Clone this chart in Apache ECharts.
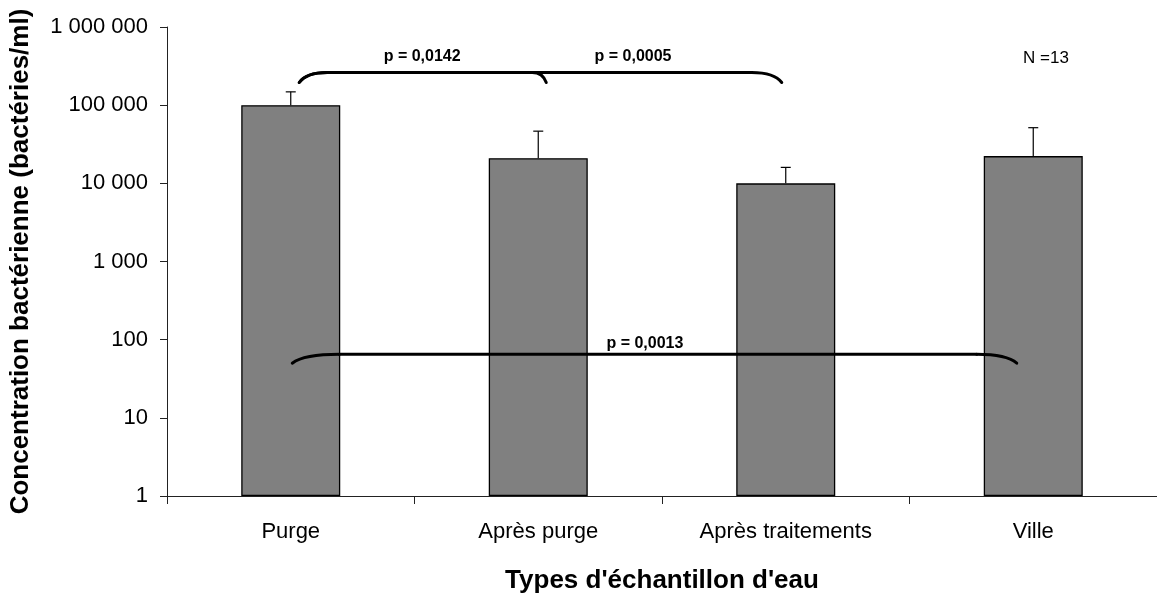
<!DOCTYPE html>
<html>
<head>
<meta charset="utf-8">
<script src="https://cdn.jsdelivr.net/npm/echarts@6/dist/echarts.min.js"></script>
<style>
html,body{margin:0;padding:0;background:#fff;}
#chart{width:1157px;height:593px;}
</style>
</head>
<body>
<div id="chart"></div>
<script>
// ---- data ----
var categories = ['Purge', 'Après purge', 'Après traitements', 'Ville'];
var meanValues = [100000, 21000, 10000, 22300];
var upperValues = [148000, 46500, 16000, 51500];
var yTickValues = [1, 10, 100, 1000, 10000, 100000, 1000000];

// significance brackets (category indexes, y levels in data units)
var bracketFrom = [0, 0, 0];
var bracketTo = [1, 2, 3];
var bracketLevel = [262000, 262000, 65];
var bracketEndLevel = [195000, 195000, 50];
var bracketTextLevel = [420000, 420000, 90];
var bracketLabels = ['p = 0,0142', 'p = 0,0005', 'p = 0,0013'];
var sampleSizeLabel = 'N =13';

// ---- drawing styles (pixel offsets, not data) ----
var bracketStyle = [
  {startOff: 8.5, endOff: 8, curveL: 28, curveR: 14, textFrac: 0.531},
  {startOff: 8.5, endOff: -4, curveL: 28, curveR: 30, textFrac: 1.383},
  {startOff: 1.5, endOff: -16.5, curveL: 47, curveR: 40, textFrac: 1.431}
];

function fmt(v) {
  return String(Math.round(v)).replace(/\B(?=(\d{3})+(?!\d))/g, ' ');
}

var chart = echarts.init(document.getElementById('chart'));
var FONT = 'Liberation Sans, Arial, sans-serif';

var option = {
  animation: false,
  grid: {left: 167, top: 27, right: 0, bottom: 97, containLabel: false, outerBoundsMode: 'none'},
  xAxis: {
    type: 'category',
    data: categories,
    boundaryGap: true,
    name: "Types d'échantillon d'eau",
    nameLocation: 'middle',
    nameGap: 72,
    nameTextStyle: {fontFamily: FONT, fontSize: 26, fontWeight: 'bold', color: '#000'},
    axisLine: {lineStyle: {color: '#222', width: 1}},
    axisTick: {show: true, length: 8, inside: false, lineStyle: {color: '#222'}},
    axisLabel: {fontFamily: FONT, fontSize: 22, color: '#000', margin: 25},
    splitLine: {show: false}
  },
  yAxis: {
    type: 'log',
    logBase: 10,
    min: 1,
    max: 1000000,
    interval: 1,
    name: 'Concentration bactérienne (bactéries/ml)',
    nameLocation: 'middle',
    nameGap: 133,
    nameRotate: 90,
    nameTextStyle: {fontFamily: FONT, fontSize: 26, fontWeight: 'bold', color: '#000'},
    axisLine: {show: true, lineStyle: {color: '#222', width: 1}},
    axisTick: {show: true, length: 7, inside: false, lineStyle: {color: '#222'}},
    axisLabel: {
      fontFamily: FONT, fontSize: 22, color: '#000', margin: 19,
      formatter: function (v) { return fmt(v); }
    },
    splitLine: {show: false},
    minorTick: {show: false}
  },
  graphic: [{
    type: 'text',
    left: 1023, top: 50,
    style: {text: sampleSizeLabel, fontFamily: FONT, fontSize: 17, fill: '#000'}
  }],
  series: [
    {
      type: 'bar',
      data: meanValues,
      barWidth: '40%',
      itemStyle: {color: '#808080', borderColor: '#000', borderWidth: 1.3},
      z: 2
    },
    {
      type: 'custom',
      z: 3,
      data: categories.map(function (c, i) { return [i, meanValues[i], upperValues[i]]; }),
      renderItem: function (params, api) {
        var i = api.value(0);
        var base = api.coord([i, api.value(1)]);
        var top = api.coord([i, api.value(2)]);
        var hw = 5;
        return {
          type: 'group',
          children: [
            {type: 'line', shape: {x1: base[0], y1: base[1], x2: top[0], y2: top[1]},
             style: {stroke: '#000', lineWidth: 1.2}},
            {type: 'line', shape: {x1: top[0] - hw, y1: top[1], x2: top[0] + hw, y2: top[1]},
             style: {stroke: '#000', lineWidth: 1.2}}
          ]
        };
      }
    },
    {
      type: 'custom',
      z: 4,
      clip: false,
      data: bracketFrom.map(function (f, i) { return [f, bracketLevel[i]]; }),
      renderItem: function (params, api) {
        var k = params.dataIndex;
        var st = bracketStyle[k];
        var pL = api.coord([bracketFrom[k], bracketLevel[k]]);
        var pR = api.coord([bracketTo[k], bracketLevel[k]]);
        var pE = api.coord([bracketFrom[k], bracketEndLevel[k]]);
        var pT = api.coord([bracketFrom[k], bracketTextLevel[k]]);
        var c0 = api.coord([0, 1])[0];
        var c1 = api.coord([1, 1])[0];
        var x0 = pL[0] + st.startOff;
        var x1 = pR[0] + st.endOff;
        var yL = pL[1], yE = pE[1];
        var tx = c0 + (c1 - c0) * st.textFrac;
        var s = {stroke: '#000', lineWidth: 3, fill: null, lineCap: 'round'};
        return {
          type: 'group',
          children: [
            {type: 'bezierCurve', shape: {x1: x0, y1: yE, cpx1: x0 + st.curveL * 0.25, cpy1: yL, x2: x0 + st.curveL, y2: yL}, style: s},
            {type: 'line', shape: {x1: x0 + st.curveL, y1: yL, x2: x1 - st.curveR, y2: yL}, style: s},
            {type: 'bezierCurve', shape: {x1: x1 - st.curveR, y1: yL, cpx1: x1 - st.curveR * 0.25, cpy1: yL, x2: x1, y2: yE}, style: s},
            {type: 'text', style: {text: bracketLabels[k], x: tx, y: pT[1], align: 'center', verticalAlign: 'middle',
              fontFamily: FONT, fontSize: 16, fontWeight: 'bold', fill: '#000'}}
          ]
        };
      }
    }
  ]
};
chart.setOption(option);
</script>
</body>
</html>
